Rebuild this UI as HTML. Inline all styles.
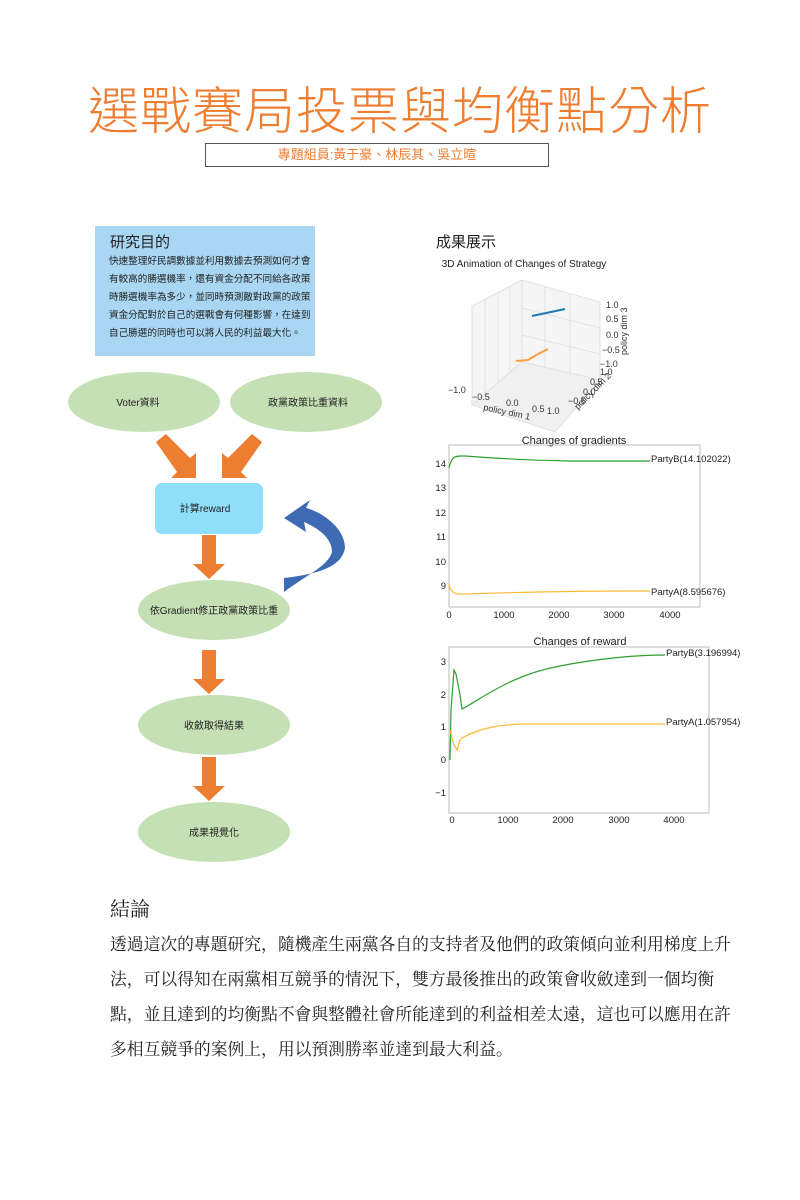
<!DOCTYPE html>
<html><head><meta charset="utf-8"><style>
body{margin:0;background:#fff;}
.p{position:relative;width:800px;height:1200px;overflow:hidden;font-family:"Liberation Sans","Noto Sans CJK TC",sans-serif;}
.a{position:absolute;white-space:nowrap;}
</style></head><body><div class="p">
<div class="a" style="left:0;width:800px;top:82px;text-align:center;font-size:51px;color:#ed7d31;letter-spacing:1px;line-height:60px;font-weight:300;">選戰賽局投票與均衡點分析</div>
<div class="a" style="left:205px;top:143px;width:342px;height:22px;border:1px solid #555;text-align:center;font-size:13px;line-height:22px;color:#ed7d31;">專題組員:黃于豪、林辰其、吳立暄</div>

<div class="a" style="left:95px;top:226px;width:220px;height:130px;background:#a9d6f2;"></div>
<div class="a" style="left:110px;top:231px;font-size:15px;color:#222;">研究目的</div>
<div class="a" style="left:109px;top:253px;font-size:9.6px;line-height:18px;color:#222;">快速整理好民調數據並利用數據去預測如何才會<br>有較高的勝選機率，還有資金分配不同給各政策<br>時勝選機率為多少，並同時預測敵對政黨的政策<br>資金分配對於自己的選戰會有何種影響，在達到<br>自己勝選的同時也可以將人民的利益最大化。</div>

<svg class="a" style="left:0;top:0" width="420" height="880">
<ellipse cx="144" cy="402" rx="76" ry="30" fill="#c5e0b4"/>
<ellipse cx="306" cy="402" rx="76" ry="30" fill="#c5e0b4"/>
<ellipse cx="214" cy="610" rx="76" ry="30" fill="#c5e0b4"/>
<ellipse cx="214" cy="725" rx="76" ry="30" fill="#c5e0b4"/>
<ellipse cx="214" cy="832" rx="76" ry="30" fill="#c5e0b4"/>
<rect x="155" y="483" width="108" height="51" rx="7" fill="#8fdffb"/>
<g fill="#ed7d31">
<polygon points="156,442 166,434 190,458 196,453 196,478 171,478 177,472"/>
<polygon points="262,442 252,434 228,458 222,453 222,478 247,478 241,472"/>
<polygon points="202,535 216,535 216,564 225,564 209,579 193,564 202,564"/>
<polygon points="202,650 216,650 216,679 225,679 209,694 193,679 202,679"/>
<polygon points="202,757 216,757 216,786 225,786 209,801 193,786 202,786"/>
</g>
<path d="M284,578 C320,574 342,566 345,548 C345,528 322,512 306,508 L310,500 L284,518 L306,532 L304,522 C318,528 332,538 332,552 C328,566 308,574 284,592 Z" fill="#3e6bb4"/>
<g font-size="10" fill="#222" text-anchor="middle">
<text x="138" y="406">Voter資料</text>
<text x="308" y="406">政黨政策比重資料</text>
<text x="205" y="512">計算reward</text>
<text x="214" y="614">依Gradient修正政黨政策比重</text>
<text x="214" y="729">收斂取得結果</text>
<text x="214" y="836">成果視覺化</text>
</g>
</svg>

<div class="a" style="left:436px;top:231px;font-size:15px;color:#222;">成果展示</div>
<svg class="a" style="left:420px;top:250px" width="380" height="580" font-family="Liberation Sans, sans-serif">
<text x="104" y="17" font-size="10" fill="#222" text-anchor="middle">3D Animation of Changes of Strategy</text>
<g stroke="#ddd" fill="#f5f5f5" stroke-width="0.8">
<polygon points="52,56 102,30 102,112 52,155"/>
<polygon points="102,30 180,52 180,130 102,112"/>
<polygon points="52,155 102,112 180,130 135,182" fill="#f0f0f0"/>
<line x1="65" y1="49" x2="65" y2="143"/><line x1="78" y1="42" x2="78" y2="132"/><line x1="90" y1="36" x2="90" y2="122"/>
<line x1="125" y1="37" x2="125" y2="117"/><line x1="150" y1="44" x2="150" y2="123"/>
<line x1="102" y1="58" x2="180" y2="78"/><line x1="102" y1="85" x2="180" y2="104"/>
</g>
<line x1="112" y1="66" x2="145" y2="59" stroke="#1f77b4" stroke-width="2"/>
<path d="M96,111 L108,110 L118,104 L128,99" stroke="#ff9e3d" stroke-width="2" fill="none"/>
<g font-size="9" fill="#333">
<text x="186" y="58">1.0</text><text x="186" y="72">0.5</text><text x="186" y="88">0.0</text><text x="182" y="103">−0.5</text><text x="180" y="117">−1.0</text>
<text x="180" y="125">1.0</text><text x="170" y="135">0.5</text><text x="163" y="145">0.0</text><text x="148" y="154">−0.5</text><text x="127" y="164">1.0</text>
<text x="28" y="143">−1.0</text><text x="52" y="150">−0.5</text><text x="86" y="156">0.0</text><text x="112" y="162">0.5</text>
<text x="63" y="160" transform="rotate(12 63 160)">policy dim 1</text>
<text x="158" y="160" transform="rotate(-45 158 160)">policy dim 2</text>
<text x="207" y="105" transform="rotate(-90 207 105)">policy dim 3</text>
</g>
<text x="154" y="194" font-size="11" fill="#222" text-anchor="middle">Changes of gradients</text>
<rect x="29" y="195" width="251" height="162" fill="none" stroke="#bbb"/>
<g font-size="9.5" fill="#222" text-anchor="end">
<text x="26" y="217">14</text><text x="26" y="241">13</text><text x="26" y="266">12</text><text x="26" y="290">11</text><text x="26" y="315">10</text><text x="26" y="339">9</text>
</g>
<g font-size="9.5" fill="#222" text-anchor="middle">
<text x="29" y="368">0</text><text x="84" y="368">1000</text><text x="139" y="368">2000</text><text x="194" y="368">3000</text><text x="250" y="368">4000</text>
</g>
<path d="M29,218 C32,205 36,206 45,206 C70,208 100,210 150,211 L230,211" stroke="#2ca02c" stroke-width="1.2" fill="none"/>
<path d="M29,335 C31,343 36,345 45,344 C80,343 120,341 230,341" stroke="#ffb833" stroke-width="1.2" fill="none"/>
<g font-size="9.5" fill="#222"><text x="231" y="212">PartyB(14.102022)</text><text x="231" y="345">PartyA(8.595676)</text></g>

<text x="160" y="395" font-size="11" fill="#222" text-anchor="middle">Changes of reward</text>
<rect x="29" y="397" width="260" height="166" fill="none" stroke="#bbb"/>
<g font-size="9.5" fill="#222" text-anchor="end">
<text x="26" y="415">3</text><text x="26" y="448">2</text><text x="26" y="480">1</text><text x="26" y="513">0</text><text x="26" y="546">−1</text>
</g>
<g font-size="9.5" fill="#222" text-anchor="middle">
<text x="32" y="573">0</text><text x="88" y="573">1000</text><text x="143" y="573">2000</text><text x="199" y="573">3000</text><text x="254" y="573">4000</text>
</g>
<path d="M30,510 L31,460 L34,420 L36,424 L40,445 L42,459 C60,450 90,425 140,416 C180,408 220,405 245,405" stroke="#2ca02c" stroke-width="1.2" fill="none"/>
<path d="M30,480 L34,495 L37,500 L40,490 L42,488 C60,478 80,474 110,474 L245,474" stroke="#ffb833" stroke-width="1.2" fill="none"/>
<g font-size="9.5" fill="#222"><text x="246" y="406">PartyB(3.196994)</text><text x="246" y="475">PartyA(1.057954)</text></g>
</svg>

<div class="a" style="left:110px;top:893px;font-size:20px;color:#222;font-family:'Liberation Serif','Noto Serif CJK SC',serif;">結論</div>
<div class="a" style="left:110px;top:927px;font-size:16.8px;line-height:35px;color:#222;font-family:'Liberation Serif','Noto Serif CJK SC',serif;">透過這次的專題研究，隨機產生兩黨各自的支持者及他們的政策傾向並利用梯度上升<br>法，可以得知在兩黨相互競爭的情況下，雙方最後推出的政策會收斂達到一個均衡<br>點，並且達到的均衡點不會與整體社會所能達到的利益相差太遠，這也可以應用在許<br>多相互競爭的案例上，用以預測勝率並達到最大利益。</div>
</div></body></html>
